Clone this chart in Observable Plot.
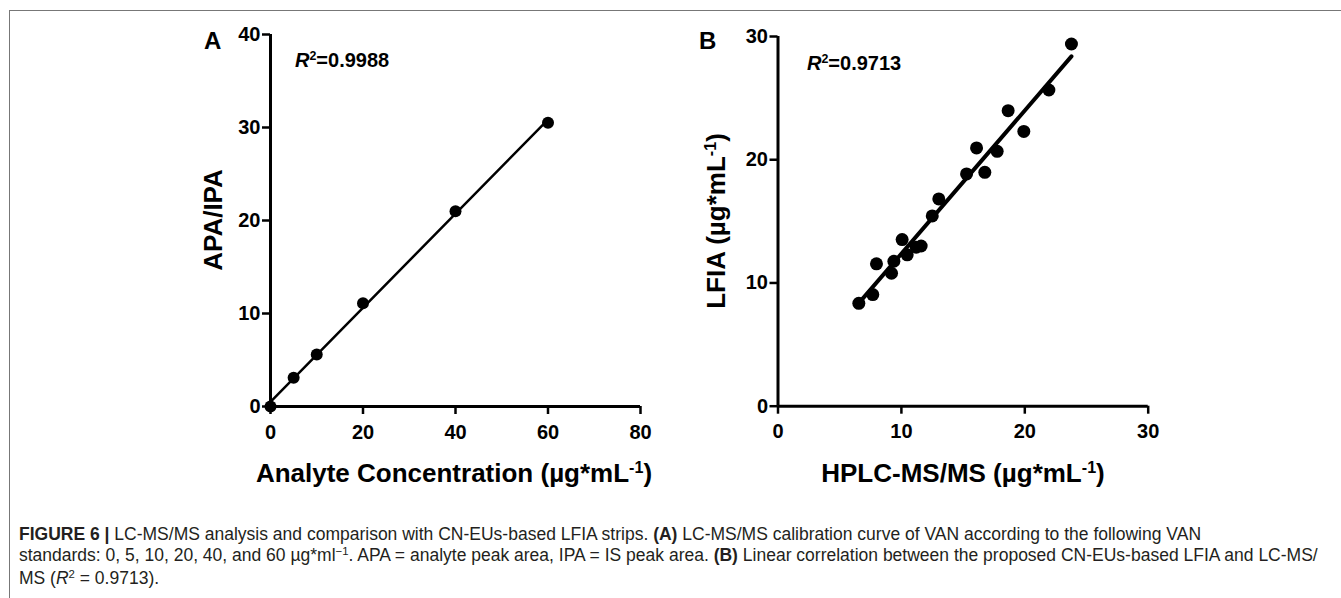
<!DOCTYPE html>
<html>
<head>
<meta charset="utf-8">
<script src="https://cdn.jsdelivr.net/npm/d3@7"></script>
<script src="https://cdn.jsdelivr.net/npm/@observablehq/plot@0.6"></script>
<style>
  html, body { margin: 0; padding: 0; background: #fff; }
  #fig { position: relative; width: 1341px; height: 598px; overflow: hidden; font-family: "Liberation Sans", Arial, sans-serif; }
  #frame { position: absolute; left: 9px; top: 10px; width: 1400px; height: 700px; border-top: 1.5px solid #777; border-left: 1.5px solid #777; }
  .plot { position: absolute; top: 0; }
  .plot svg text { font-size: 20px !important; font-weight: bold !important; font-family: "Liberation Sans", Arial, sans-serif !important; }
  .lab { position: absolute; font-weight: bold; color: #000; white-space: nowrap; line-height: 1; }
  .title { font-size: 26px; }
  .panel { font-size: 24px; }
  .r2 { font-size: 20px; }
  .rot { transform: translate(-50%, -50%) rotate(-90deg); }
  .hc { transform: translate(-50%, -50%); }
  sup { font-size: 0.62em; vertical-align: 0; position: relative; top: -0.55em; }
  #caption { position: absolute; left: 19px; top: 524px; font-size: 17.5px; line-height: 21px; color: #231f20; white-space: nowrap; font-family: "Liberation Sans", Arial, sans-serif; }
  #caption sup { font-size: 0.65em; top: -0.55em; }
</style>
</head>
<body>
<div id="fig">
  <div id="frame"></div>
  <div id="pa" class="plot" style="left:0px"></div>
  <div id="pb" class="plot" style="left:670px"></div>

  <div class="lab panel" style="left:204px; top:29px;">A</div>
  <div class="lab panel" style="left:699px; top:29px;">B</div>
  <div class="lab r2" style="left:295px; top:50px;"><i>R</i><sup>2</sup>=0.9988</div>
  <div class="lab r2" style="left:807px; top:53px;"><i>R</i><sup>2</sup>=0.9713</div>

  <div class="lab title hc" style="left:454px; top:473px;">Analyte Concentration (µg*mL<sup>-1</sup>)</div>
  <div class="lab title hc" style="left:963px; top:473px;">HPLC-MS/MS (µg*mL<sup>-1</sup>)</div>
  <div class="lab title rot" style="left:213px; top:220px;">APA/IPA</div>
  <div class="lab title rot" style="left:716px; top:221px;">LFIA (µg*mL<sup>-1</sup>)</div>

  <div id="caption">
    <div><b>FIGURE 6 |</b> LC-MS/MS analysis and comparison with CN-EUs-based LFIA strips. <b>(A)</b> LC-MS/MS calibration curve of VAN according to the following VAN</div>
    <div>standards: 0, 5, 10, 20, 40, and 60 µg*ml<sup>−1</sup>. APA = analyte peak area, IPA = IS peak area. <b>(B)</b> Linear correlation between the proposed CN-EUs-based LFIA and LC-MS/</div>
    <div>MS (<i>R</i><sup>2</sup> = 0.9713).</div>
  </div>
</div>
<script>
// Panel A: calibration standards
const concA = [0, 5, 10, 20, 40, 60];
const ratioA = [0, 3.1, 5.6, 11.1, 21.0, 30.5];
const xTicksA = [0, 20, 40, 60, 80];
const yTicksA = [0, 10, 20, 30, 40];

// Panel B: HPLC-MS/MS vs LFIA
const hplcB = [6.55, 7.68, 7.98, 9.2, 9.39, 10.06, 10.47, 11.2, 11.6, 12.5, 13.03, 15.28, 16.09, 16.76, 17.76, 18.65, 19.92, 21.95, 23.78];
const lfiaB = [8.35, 9.06, 11.55, 10.79, 11.76, 13.52, 12.28, 12.9, 13.0, 15.44, 16.82, 18.85, 20.96, 18.98, 20.68, 23.98, 22.3, 25.66, 29.39];
const xTicksB = [0, 10, 20, 30];
const yTicksB = [0, 10, 20, 30];

const dataA = concA.map((x, i) => ({x, y: ratioA[i]}));
const dataB = hplcB.map((x, i) => ({x, y: lfiaB[i]}));

const baseStyle = {fontFamily: "'Liberation Sans', Arial, sans-serif", fontSize: "20px", fontWeight: "bold", color: "#000", background: "transparent", overflow: "visible"};

function panel({data, xDomain, yDomain, xTicks, yTicks, width, height, ml, mr, mt, mb, lineWidth, r}) {
  return Plot.plot({
    width, height,
    marginLeft: ml, marginRight: mr, marginTop: mt, marginBottom: mb,
    style: baseStyle,
    x: {domain: xDomain},
    y: {domain: yDomain},
    marks: [
      Plot.axisX({ticks: xTicks, tickSize: 8, tickPadding: 10, strokeWidth: 2.5, label: null, tickFormat: d3.format("d"), fontSize: 20, fontWeight: "bold"}),
      Plot.axisY({ticks: yTicks, tickSize: 8, tickPadding: 2, strokeWidth: 2.5, label: null, tickFormat: d3.format("d"), fontSize: 20, fontWeight: "bold"}),
      Plot.ruleX([xDomain[0]], {strokeWidth: 3, stroke: "#000"}),
      Plot.ruleY([yDomain[0]], {strokeWidth: 3, stroke: "#000"}),
      Plot.linearRegressionY(data, {x: "x", y: "y", ci: 0, stroke: "#000", strokeWidth: lineWidth}),
      Plot.dot(data, {x: "x", y: "y", r, fill: "#000", stroke: "none"})
    ]
  });
}

document.getElementById("pa").append(panel({
  data: dataA, xDomain: [0, 80], yDomain: [0, 40], xTicks: xTicksA, yTicks: yTicksA,
  width: 670, height: 440, ml: 270, mr: 30, mt: 34, mb: 34, lineWidth: 2.5, r: 6
}));
document.getElementById("pb").append(panel({
  data: dataB, xDomain: [0, 30], yDomain: [0, 30], xTicks: xTicksB, yTicks: yTicksB,
  width: 671, height: 440, ml: 107.5, mr: 193.3, mt: 36, mb: 34.3, lineWidth: 4, r: 6.5
}));
</script>
</body>
</html>
